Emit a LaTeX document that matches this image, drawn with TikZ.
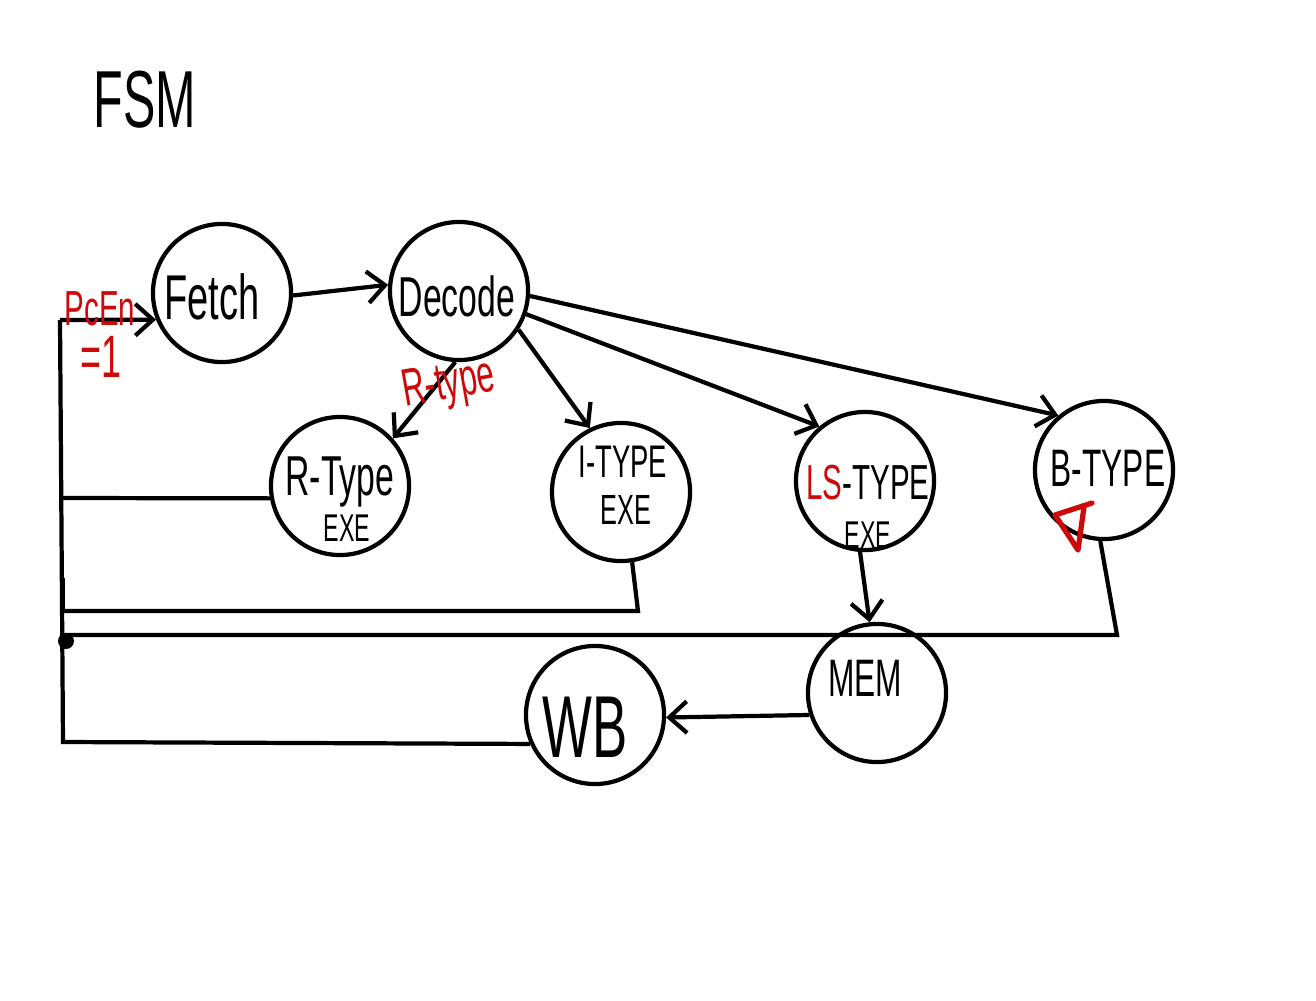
\documentclass[tikz,border=0pt]{standalone}
\usepackage{fontspec}
\usetikzlibrary{arrows.meta}
\newfontfamily\hand[FakeStretch=0.6]{Liberation Sans}
\definecolor{hred}{RGB}{205,10,10}
\tikzset{
  st/.style={circle, draw, line width=1.2pt, minimum size=1.38cm, inner sep=0pt},
  tx/.style={inner sep=0pt, font=\hand},
  ln/.style={line width=1.2pt},
  ar/.style={line width=1.2pt, -{Straight Barb[length=5pt,width=9pt,line width=1.2pt]}},
  rl/.style={text=hred, font=\hand, inner sep=0pt},
  fs/.style={font=\hand\fontsize{#1}{#1}\selectfont}
}
\begin{document}
\begin{tikzpicture}[x=0.01cm,y=-0.01cm]
\fill[white] (0,0) rectangle (1316,1000);
\useasboundingbox (0,0) rectangle (1316,1000);
\node[tx, fs=23] (title) at (145,100) {FSM};
% state circles
\node[st] (F) at (222,293) {};
\node[st] (D) at (459,291) {};
\node[st] (R) at (340,486) {};
\node[st] (I) at (621,492) {};
\node[st] (LS) at (865,481) {};
\node[st] (B) at (1104,470) {};
\node[st] (M) at (877,693) {};
\node[st] (W) at (595,715) {};
% state texts
\node[tx, fs=18] (Ft) at (212,297) {Fetch};
\node[tx, fs=16] (Dt) at (457,296) {Decode};
\node[tx, fs=16] (Rt) at (340,482) {R-Type};
\node[tx, fs=11] (Re) at (347,528) {EXE};
\node[tx, fs=13] (It) at (623,462) {I-TYPE};
\node[tx, fs=12] (Ie) at (626,510) {EXE};
\node[tx, fs=14] (Lt) at (868,483) {\textcolor{hred}{LS}-TYPE};
\node[tx, fs=11] (Le) at (868,535) {EXE};
\node[tx, fs=15] (Bt) at (1108,468) {B-TYPE};
\node[tx, fs=15] (Mt) at (865,678) {MEM};
\node[tx, fs=25] (Wt) at (585,727) {WB};
% left bus coordinates
\coordinate (Ltop) at (60,320);
\coordinate (Lbot) at (63,742);
\coordinate (Lr) at (60,498);
\coordinate (Li) at (63,611);
\coordinate (Lb) at (60,635);
\coordinate (Iturn) at (638,611);
\coordinate (Bturn) at (1117,635);
% forward arrows
\draw[ar] (F.-2) -- (D.175);
\draw[ar] (D.-93) -- (R.42);
\node[rl, fs=15, rotate=10] (rlab) at (449,386) {R-type};
\draw[ar] (D.-33) -- (I.116);
\draw[ar] (D.-19) -- (LS.130);
\draw[ar] (D.-4) -- (B.130);
\draw[ar] (LS.-94) -- (M.96);
\draw[ar] (M.198) -- (W.-2);
% feedback lines
\draw[ln] (R.190) -- (Lr);
\draw[ln] (I.-81) -- (Iturn) -- (Li);
\draw[ln] (B.-93) -- (Bturn) -- (Lb);
\draw[ln] (W.204) -- (Lbot) -- (Ltop);
\draw[ar] (Ltop) -- (F.202);
\fill (66,641) circle (8);
\draw[ln] (63,578) -- (63,612);
% red annotations
\node[rl, fs=14] (pcen) at (100,309) {PcEn};
\node[rl, fs=17] (eq) at (101,357) {=1};
\draw[hred, line width=1.5pt, line cap=round, line join=round] (1092,503) -- (1055,515) -- (1078,550) -- (1084,507);
\end{tikzpicture}
\end{document}
